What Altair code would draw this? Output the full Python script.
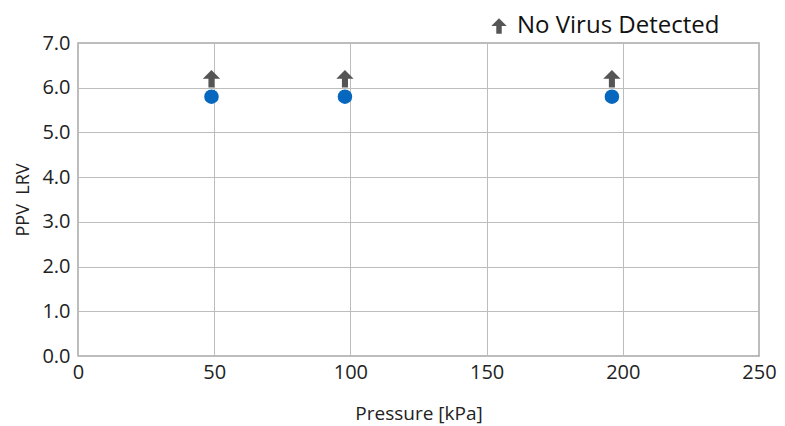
import altair as alt
import pandas as pd

pressure = [49, 98, 196]
lrv = [5.8, 5.8, 5.8]
arrow_y = [6.2, 6.2, 6.2]
legend_label = "No Virus Detected"

ARROW = "M0,-1L1,0L0.35,0L0.35,1L-0.35,1L-0.35,0L-1,0Z"
FONT = "Open Sans"

pts = pd.DataFrame({"p": pressure, "lrv": lrv})
arr = pd.DataFrame({"p": pressure, "y": arrow_y, "lab": [legend_label] * 3})

x = alt.X("p:Q", title="Pressure [kPa]",
          scale=alt.Scale(domain=[0, 250], nice=False),
          axis=alt.Axis(values=[0, 50, 100, 150, 200, 250], format="d",
                        titlePadding=22, labelPadding=6, labelFlush=False, titleFontSize=19))

dots = alt.Chart(pts).mark_point(filled=True, opacity=1, size=210, color="#0567BD", shape="circle").encode(
    x=x,
    y=alt.Y("lrv:Q", title="PPV\u00a0 LRV",
            scale=alt.Scale(domain=[0, 7], nice=False),
            axis=alt.Axis(values=[0, 1, 2, 3, 4, 5, 6, 7], format=".1f", titlePadding=9,
                          labelFlush=False, titleFontSize=18)),
)

arrows = alt.Chart(arr).mark_point(filled=True, opacity=1, size=300).encode(
    x=alt.X("p:Q"),
    y=alt.Y("y:Q"),
    shape=alt.Shape("lab:N", scale=alt.Scale(range=[ARROW]),
                    legend=alt.Legend(title=None, orient="none", legendX=409, legendY=-29,
                                      labelFontSize=24, labelFont=FONT, labelColor="#111",
                                      labelLimit=400,
                                      symbolSize=240, symbolFillColor="#111", symbolStrokeWidth=0,
                                      labelOffset=6)),
    color=alt.value("#555555"),
)

chart = alt.layer(arrows, dots).properties(
    width=681, height=313,
    padding={"left": 70, "top": 35, "right": 18, "bottom": 68},
    autosize=alt.AutoSizeParams(type="none"),
).configure_view(
    stroke="#a6a6a6", strokeWidth=1.5,
).configure_axis(
    grid=True, gridColor="#bdbdbd", gridWidth=1,
    domain=False, ticks=False,
    labelFont=FONT, labelFontSize=20, labelColor="#222", labelPadding=8,
    titleFont=FONT, titleFontWeight="normal", titleColor="#222",
)

chart.save("out.html", embed_options={"renderer": "svg", "actions": False})
